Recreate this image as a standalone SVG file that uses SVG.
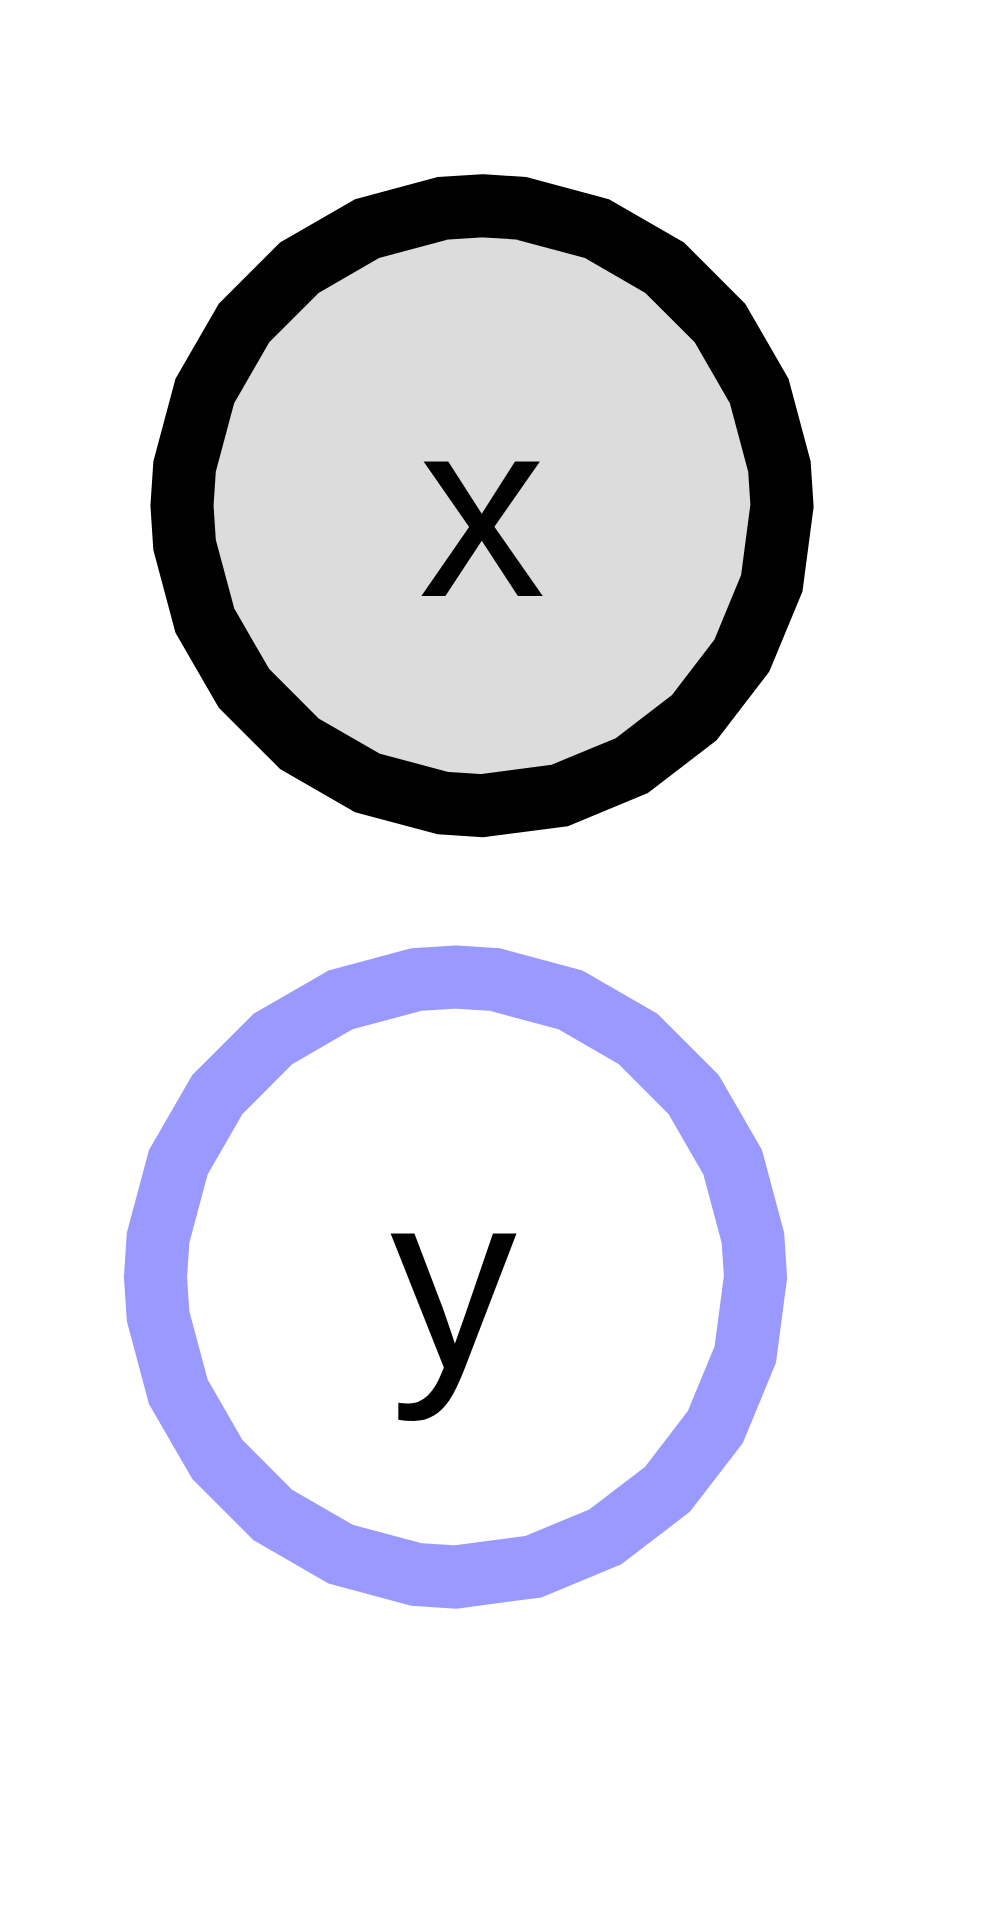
<svg xmlns="http://www.w3.org/2000/svg" xmlns:xlink="http://www.w3.org/1999/xlink" width="1000" height="1918" viewBox="0 0 1000 1918">
  <style>
    .shape { stroke-width: 63; stroke-linejoin: miter; }
    .nx .shape { fill: #dcdcdc; stroke: #000000; }
    .ny .shape { fill: #ffffff; stroke: #9999ff; }
    .label { font-family: "Liberation Sans", Arial, sans-serif; font-size: 254px; fill: #000000; text-anchor: middle; }
  </style>
  <defs>
    <polygon id="ring" points="0,-300 39.16,-297.43 114.81,-277.16 182.63,-238.01 238.01,-182.63 277.16,-114.81 297.43,-39.16 300,0 289.78,77.65 259.81,150 212.13,212.13 150,259.81 77.65,289.78 0,300 -39.16,297.43 -114.81,277.16 -182.63,238.01 -238.01,182.63 -277.16,114.81 -297.43,39.16 -300,0 -297.43,-39.16 -277.16,-114.81 -238.01,-182.63 -182.63,-238.01 -114.81,-277.16 -39.16,-297.43"/>
  </defs>
  <rect x="0" y="0" width="1000" height="1918" fill="#ffffff"/>
  <g id="connectors"></g>
  <g id="node-x" class="nx">
    <use xlink:href="#ring" href="#ring" class="shape" transform="translate(482,505.7)"/>
    <text class="label" x="482" y="595.5">x</text>
  </g>
  <g id="node-y" class="ny">
    <use xlink:href="#ring" href="#ring" class="shape" transform="translate(455.5,1277)"/>
    <text class="label" x="453.5" y="1367.5">y</text>
  </g>
</svg>
